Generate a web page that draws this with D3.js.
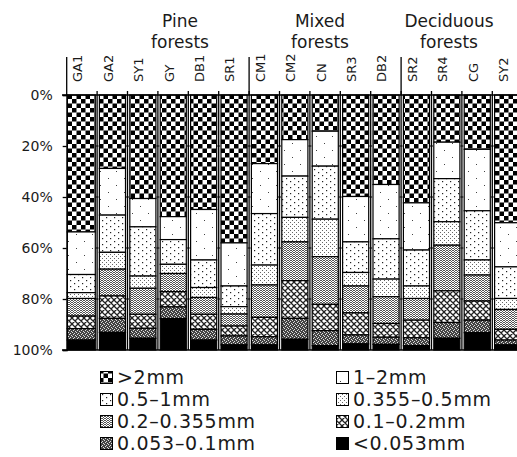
<!DOCTYPE html>
<html><head><meta charset="utf-8">
<script src="https://cdn.jsdelivr.net/npm/d3@7"></script>
<style>
html,body{margin:0;padding:0;background:#fff;}
svg text{font-family:"DejaVu Sans",sans-serif;fill:#1a1a1a;}
</style></head><body>
<svg id="chart" width="517" height="457"></svg>
<script>
const categories = ["GA1","GA2","SY1","GY","DB1","SR1","CM1","CM2","CN","SR3","DB2","SR2","SR4","CG","SY2"];
const classes = [">2mm","1\u20132mm","0.5\u20131mm","0.355\u20130.5mm","0.2\u20130.355mm","0.1\u20130.2mm","0.053\u20130.1mm","<0.053mm"];
const gt2    = [53.7,28.8,40.6,47.7,44.9,58.0,26.9,17.5,14.2,39.8,35.1,42.3,18.5,21.3,50.1];
const s1_2   = [16.7,18.3,11.1,9.0,19.8,16.9,19.6,14.3,13.7,17.8,21.3,18.5,14.3,24.1,17.3];
const s05_1  = [7.1,14.6,19.3,9.7,10.8,8.1,20.2,16.2,20.8,12.0,15.8,14.1,16.9,19.3,12.4];
const s0355  = [2.3,6.6,4.8,3.6,3.9,2.9,7.8,9.6,14.7,5.3,6.9,4.9,9.2,5.9,4.3];
const s02    = [6.9,10.5,10.2,7.1,6.6,4.7,12.7,15.2,18.7,10.5,10.5,8.5,17.9,10.2,7.8];
const s01    = [4.9,8.8,5.5,6.0,5.9,3.9,7.6,14.8,10.3,8.7,5.4,6.9,12.4,7.5,4.2];
const s0053  = [4.5,5.5,3.9,4.6,4.2,3.5,3.2,8.2,5.9,3.5,2.8,3.1,6.2,4.9,1.9];
const lt0053 = [3.9,6.9,4.6,12.3,3.9,2.0,2.0,4.2,1.7,2.4,2.2,1.7,4.6,6.8,2.0];
const yTicks = [0,20,40,60,80,100];
const groups = [{name:["Pine","forests"], from:"GA1"},{name:["Mixed","forests"], from:"CM1"},{name:["Deciduous","forests"], from:"SR2"}];

const seriesVals = [gt2,s1_2,s05_1,s0355,s02,s01,s0053,lt0053];
const table = categories.map((c,i)=>{const r={cat:c}; classes.forEach((k,j)=>r[k]=seriesVals[j][i]); return r;});

const svg = d3.select("#chart");
const defs = svg.append("defs");
function pat(id,w,h,bg,draw){const p=defs.append("pattern").attr("id",id).attr("patternUnits","userSpaceOnUse").attr("width",w).attr("height",h);p.append("rect").attr("width",w).attr("height",h).attr("fill",bg);draw(p);}
function px(p,pts,c,s){pts.forEach(d=>p.append("rect").attr("x",d[0]).attr("y",d[1]).attr("width",s||1).attr("height",s||1).attr("fill",c));}
pat("p0",9,9,"#fff",p=>{p.append("rect").attr("width",4.5).attr("height",4.5).attr("fill","#000");p.append("rect").attr("x",4.5).attr("y",4.5).attr("width",4.5).attr("height",4.5).attr("fill","#000");});
pat("p1",16,14,"#fff",p=>px(p,[[4,3],[12,10]],"#444"));
pat("p2",8,6,"#fff",p=>px(p,[[2,1],[6,4]],"#222",1.2));
pat("p3",4,4,"#fff",p=>px(p,[[0,0],[2,2]],"#666"));
pat("p4",3,2,"#fff",p=>px(p,[[0,0],[1,1],[2,0]],"#555"));
pat("p5",6,6,"#fff",p=>{p.append("path").attr("d","M0,0L6,6M6,0L0,6M-1,5L1,7M5,-1L7,1M5,7L7,5M-1,1L1,-1").attr("stroke","#222").attr("stroke-width",1.3);});
pat("p6",4,4,"#444",p=>px(p,[[0,0],[2,1],[1,2],[3,3]],"#ddd"));
pat("p7",4,4,"#000",p=>{});
const fills = classes.map((k,i)=>`url(#p${i})`);

const x = d3.scaleBand().domain(categories).range([66.7, 66.7+30.4*15]);
const y = d3.scaleLinear().domain([0,100]).range([95,350]);

const stack = d3.stack().keys(classes)(table);
const bw = x.bandwidth();
stack.forEach((s,i)=>{
  svg.append("g").selectAll("rect").data(s).join("rect")
    .attr("x",d=>x(d.data.cat)+(d.data.cat===categories[0]?0.5:2.3))
    .attr("width",d=>bw-(d.data.cat===categories[0]?2.3:4.3))
    .attr("y",d=>y(d[0])).attr("height",d=>y(d[1])-y(d[0]))
    .attr("fill",fills[i]).attr("stroke","#000").attr("stroke-width",1.2);
});

const bounds = categories.slice(1).map(c=>x(c));
const g = svg.append("g").attr("stroke","#000").attr("fill","none");
bounds.forEach(b=>{
  g.append("line").attr("x1",b).attr("x2",b).attr("y1",y(0)-4).attr("y2",y(100)).attr("stroke-width",1.3);
  yTicks.slice(1,-1).forEach(t=>g.append("line").attr("x1",b-1.5).attr("x2",b+1.5).attr("y1",y(t)).attr("y2",y(t)).attr("stroke-width",1));
});
groups.forEach(gr=>{const b=x(gr.from); g.append("line").attr("x1",b).attr("x2",b).attr("y1",57).attr("y2",y(0)).attr("stroke-width",1.3);});
g.append("line").attr("x1",62).attr("x2",517).attr("y1",y(0)).attr("y2",y(0)).attr("stroke-width",1.5);
g.append("line").attr("x1",62).attr("x2",517).attr("y1",y(100)).attr("y2",y(100)).attr("stroke-width",1.5);

const ya = svg.append("g").attr("transform",`translate(${x.range()[0]},0)`)
  .call(d3.axisLeft(y).tickValues(yTicks).tickFormat(d=>d+"%").tickSize(4).tickPadding(10));
ya.select(".domain").attr("stroke","#000").attr("stroke-width",1.5);
ya.selectAll(".tick line").attr("stroke","#000").attr("stroke-width",1.3);
ya.selectAll(".tick text").style("font-family","DejaVu Sans").style("font-size","14px").attr("fill","#1a1a1a");

const cl = svg.append("g").attr("class","catlabels");
categories.forEach(d=>{
  cl.append("text")
    .attr("transform",`translate(${x(d)+bw/2+0.5},82) rotate(-90)`)
    .attr("text-anchor","start").style("font-size","13px").text(d);
});

const groupPos = [180,320,449];
groups.forEach((gr,i)=>{
  gr.name.forEach((t,j)=>svg.append("text").attr("x",groupPos[i]).attr("y",27+j*21).attr("text-anchor","middle").style("font-size","17px").text(t));
});

const leg = svg.append("g");
classes.forEach((k,i)=>{
  const col=i%2,row=Math.floor(i/2);
  const lx = col===0?100:336, ly = 384+row*22;
  leg.append("rect").attr("x",lx+0.5).attr("y",ly-12.5).attr("width",12).attr("height",12).attr("fill",fills[i]).attr("stroke","#000").attr("stroke-width",1);
  leg.append("text").attr("x",lx+17).attr("y",ly).style("font-size","19px").style("letter-spacing","0.7px").text(k);
});
</script></body></html>
